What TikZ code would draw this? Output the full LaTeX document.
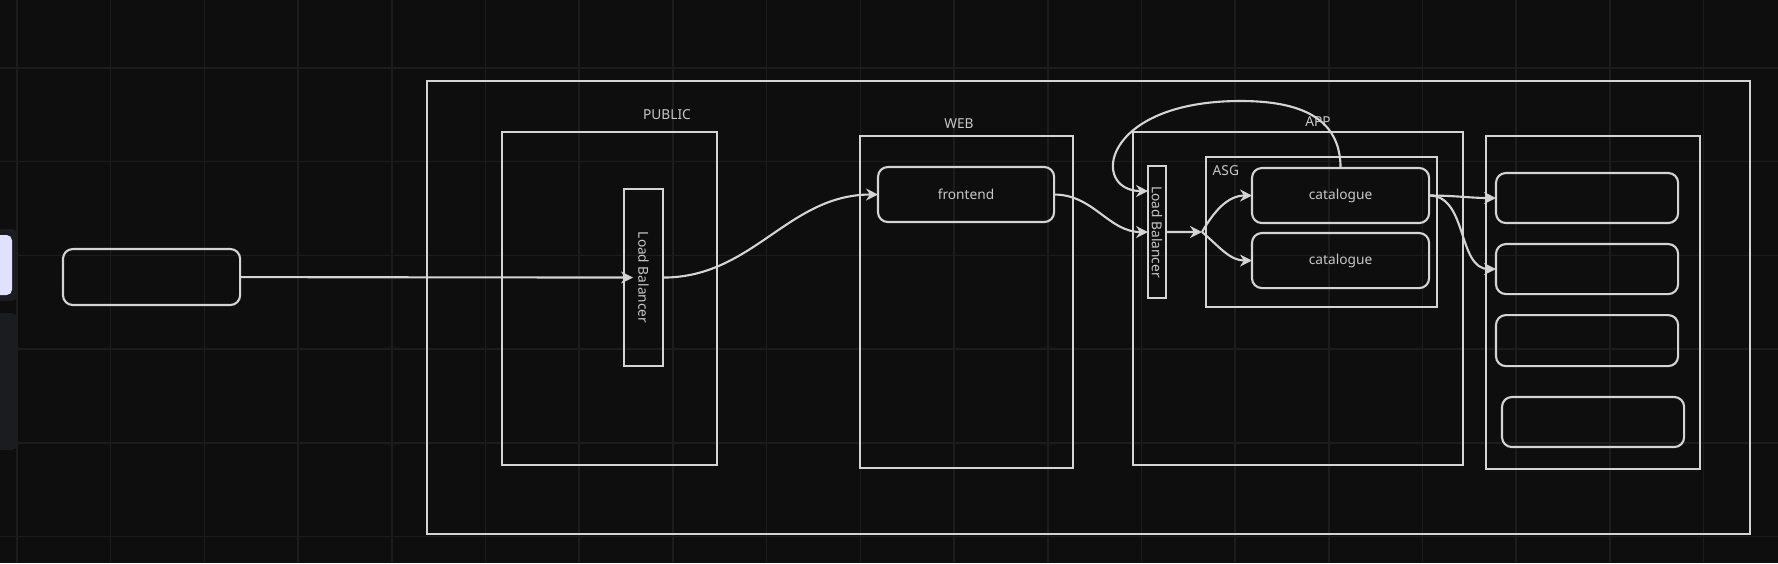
\documentclass[tikz,border=0pt]{standalone}
\usepackage{fontspec}
\setmainfont{Noto Sans}
\usetikzlibrary{calc,positioning,arrows.meta}
\definecolor{canvas}{HTML}{0E0E0E}
\definecolor{gridline}{HTML}{1C1C1C}
\definecolor{ink}{HTML}{D4D4D4}
\definecolor{inktext}{HTML}{C8C8C8}
\definecolor{panel}{HTML}{1B1C1F}
\definecolor{lavender}{HTML}{E0E0FF}
\tikzset{
	zone/.style={draw=ink, line width=0.6pt, inner sep=0pt, outer sep=0pt, anchor=north west, text=inktext, font=\fontsize{3.9}{4.5}\selectfont},
	card/.style={zone, rounded corners=2.8pt},
	tag/.style={text=inktext, font=\fontsize{3.9}{4.5}\selectfont, inner sep=0pt},
	wire/.style={draw=ink, line width=0.6pt},
}

\begin{document}
\begin{tikzpicture}[x=0.01cm, y=-0.01cm, >={Stealth[length=3.4pt, width=3.4pt]}]
		\fill[canvas] (0,0) rectangle (1778,563);
		\useasboundingbox (0,0) rectangle (1778,563);
		\foreach \gx in {17,110.7,...,1778} \draw[gridline, line width=0.45pt] (\gx,0) -- (\gx,563);
		\foreach \gy in {68,161.7,...,563} \draw[gridline, line width=0.45pt] (0,\gy) -- (1778,\gy);
		\fill[panel, rounded corners=1.5pt] (-10,229) rectangle (17,301);
		\fill[lavender, rounded corners=1.5pt] (-10,235) rectangle (12,295);
		\fill[panel, rounded corners=1.5pt] (-10,313) rectangle (17,450);
		\node[card, minimum width=1.77cm, minimum height=0.56cm] (client) at (63,249) {};
		\node[zone, minimum width=13.22cm, minimum height=4.53cm] (vpc) at (427,81) {};
		\node[zone, minimum width=2.15cm, minimum height=3.33cm] (public) at (502,132) {};
		\node[tag] (publiclbl) at (667,115) {PUBLIC};
		\node[zone, minimum width=0.39cm, minimum height=1.77cm, label={[tag, rotate=-90]center:Load Balancer}] (lbpub) at (624,189) {};
		\node[zone, minimum width=2.13cm, minimum height=3.32cm] (web) at (860,136) {};
		\node[tag] (weblbl) at (959,124) {WEB};
		\node[card, minimum width=1.76cm, minimum height=0.55cm] (frontend) at (878,167) {frontend};
		\node[zone, minimum width=3.30cm, minimum height=3.33cm] (app) at (1133,132) {};
		\node[tag] (applbl) at (1318,122) {APP};
		\node[zone, minimum width=0.18cm, minimum height=1.32cm, label={[tag, rotate=-90]center:Load Balancer}] (lbapp) at (1148,166) {};
		\node[zone, minimum width=2.31cm, minimum height=1.50cm] (asg) at (1206,157) {};
		\node[tag, anchor=west] (asglbl) at (1212,171) {ASG};
		\node[card, minimum width=1.77cm, minimum height=0.55cm] (cat1) at (1252,168) {catalogue};
		\node[card, minimum width=1.77cm, minimum height=0.55cm, below=0.1cm of cat1] (cat2) {catalogue};
		\node[zone, minimum width=2.14cm, minimum height=3.33cm] (tier) at (1486,136) {};
		\node[card, minimum width=1.82cm, minimum height=0.50cm] (slot1) at (1496,173) {};
		\node[card, minimum width=1.82cm, minimum height=0.50cm, below=0.21cm of slot1] (slot2) {};
		\node[card, minimum width=1.82cm, minimum height=0.51cm, below=0.21cm of slot2] (slot3) {};
		\node[card, minimum width=1.82cm, minimum height=0.50cm] (slot4) at (1502,397) {};
		\coordinate (split) at (1202,232);
		\draw[wire, ->, shorten >=-0.09cm] (client) -- (lbpub);
		\draw[wire, ->] (lbpub.east) to[out=0, in=180] (frontend.west);
		\draw[wire, ->] (frontend.east) to[out=0, in=180] (lbapp.west);
		\draw[wire, ->] (lbapp.east) -- (split);
		\draw[wire, ->] (split) to[out=60, in=180] (cat1.west);
		\draw[wire, ->] (split) to[out=-40, in=180] (cat2.west);
		\draw[wire, ->] (cat1.north) .. controls +(0,-50) and +(60,0) .. ++(-100,-67) .. controls +(-140,0) and +(-58,0) .. ([yshift=0.41cm]lbapp.west);
		\draw[wire, ->] (cat1.east) to[out=0, in=180] (slot1.west);
		\draw[wire, ->] (cat1.east) to[out=0, in=180] (slot2.west);
	\end{tikzpicture}
\end{document}
